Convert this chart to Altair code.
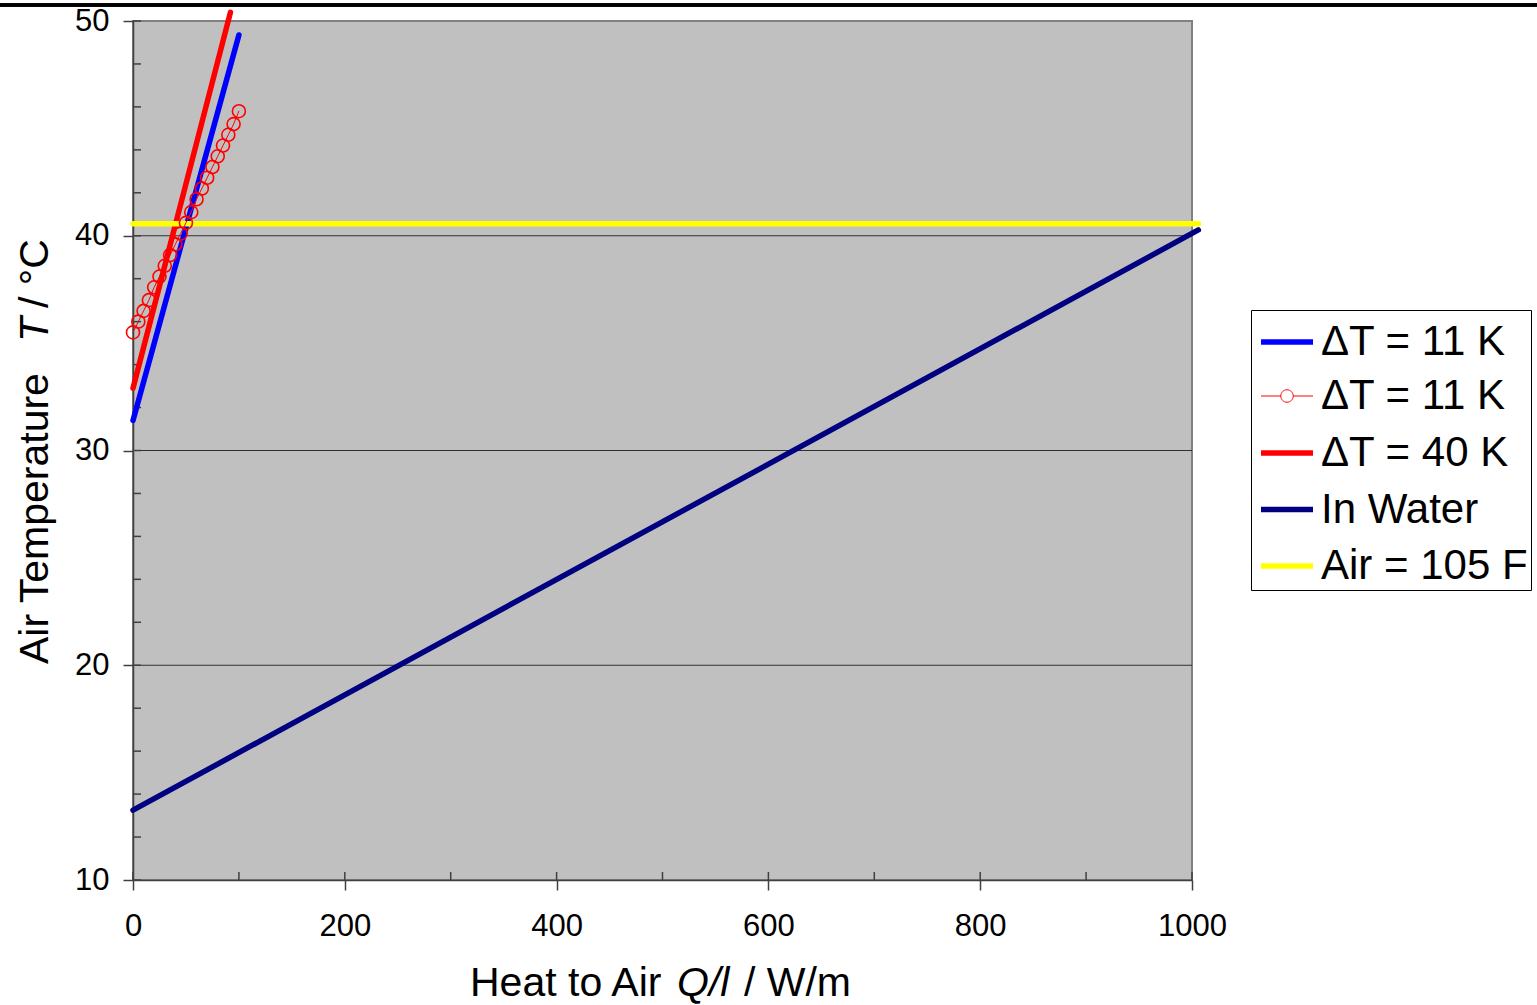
import altair as alt
import pandas as pd

# ---- data ----
series_keys = ["s1", "s2", "s3", "s4", "s5"]
series_labels = ["ΔT = 11 K", "ΔT = 11 K", "ΔT = 40 K", "In Water", "Air = 105 F"]
series_colors = ["#0000FF", "#FF0000", "#FF0000", "#000080", "#FFFF00"]
series_widths = [5.5, 1, 5.5, 5.5, 5.5]

blue_x = [0, 100]
blue_t = [31.4, 49.35]

red40_x = [0, 92]
red40_t = [32.9, 50.4]

water_x = [0, 1006]
water_t = [13.25, 40.27]

air_x = [0, 1006]
air_t = [40.56, 40.56]

circ_x = [0, 5, 10, 15, 20, 25, 30, 35, 40, 45, 50, 55, 60, 65, 70, 75, 80, 85, 90, 95, 100]
circ_t = [35.5, 36.0, 36.5, 37.0, 37.6, 38.1, 38.6, 39.1, 39.6, 40.1, 40.6,
          41.1, 41.7, 42.2, 42.7, 43.2, 43.7, 44.2, 44.7, 45.2, 45.8]

x_major = [0, 200, 400, 600, 800, 1000]
x_minor = [0, 100, 200, 300, 400, 500, 600, 700, 800, 900, 1000]
y_major = [10, 20, 30, 40, 50]
y_grid = [20, 30, 40]
y_minor = [10, 12, 14, 16, 18, 20, 22, 24, 26, 28, 30, 32, 34, 36, 38, 40, 42, 44, 46, 48, 50]

# axis titles, split where the italic symbol sits
x_title_parts = ["Heat to Air", "Q/l", "/ W/m"]
y_title_parts = ["Air Temperature", "T", "/ °C"]

FONT = "Liberation Sans"
TITLE_SIZE = 41

# ---- tables ----
series_data = {"s1": (blue_x, blue_t), "s2": (circ_x, circ_t), "s3": (red40_x, red40_t),
               "s4": (water_x, water_t), "s5": (air_x, air_t)}
circ_df = pd.DataFrame({"q": circ_x, "T": circ_t})
legend_df = pd.DataFrame({"key": series_keys, "label": series_labels})
xminor_df = pd.DataFrame({"q": x_minor})
yminor_df = pd.DataFrame({"T": y_minor})
ygrid_df = pd.DataFrame({"T": y_grid})

label_map = "{" + ",".join(f"'{k}':'{l}'" for k, l in zip(series_keys, series_labels)) + "}"

xscale = alt.Scale(domain=[0, 1000], nice=False, zero=False)
yscale = alt.Scale(domain=[10, 50], nice=False, zero=False)

color_scale = alt.Scale(type="ordinal", domain=series_keys, range=series_colors)
width_scale = alt.Scale(type="ordinal", domain=series_keys, range=series_widths)
circle_path = ("M-1,0L-0.24,0M0.24,0L1,0"
               "M-0.24,0A0.24,0.24,0,1,1,0.24,0A0.24,0.24,0,1,1,-0.24,0")
shape_scale = alt.Scale(type="ordinal", domain=series_keys,
                        range=["stroke", circle_path, "stroke", "stroke", "stroke"])

x_axis = alt.Axis(values=x_major, format="d", labelFlush=False, title=None, grid=False,
                  labelFontSize=31, labelFont=FONT, labelColor="black",
                  labelBaseline="middle", labelPadding=36,
                  tickSize=10, tickColor="#404040", tickWidth=1.5,
                  domainColor="#404040", domainWidth=1.5)
y_axis = alt.Axis(values=y_major, title=None, grid=False, labelFlush=False,
                  labelFontSize=31, labelFont=FONT, labelColor="black",
                  labelPadding=14,
                  tickSize=10, tickColor="#404040", tickWidth=1.5,
                  domainColor="#404040", domainWidth=1.5)

# legend carrier (marks placed off-canvas; only its legend is seen)
legend_layer = alt.Chart(legend_df).mark_point(
    filled=False, size=2704, opacity=1).encode(
    x=alt.value(-3000), y=alt.value(-3000),
    color=alt.Color("key:N", scale=color_scale, legend=alt.Legend(
        title=None, orient="none", legendX=1118, legendY=289,
        labelExpr=label_map + "[datum.label]",
        labelFont=FONT, labelFontSize=42, labelColor="black", labelLimit=400,
        labelOffset=5, symbolSize=2704, symbolOffset=4,
        strokeColor="black", fillColor="white", padding=3,
        rowPadding=6.5)),
    shape=alt.Shape("key:N", scale=shape_scale),
    strokeWidth=alt.StrokeWidth("key:N", scale=width_scale),
)

grid = alt.Chart(ygrid_df).mark_rule(color="#303030", strokeWidth=1).encode(
    y=alt.Y("T:Q", scale=yscale, axis=y_axis), x=alt.value(0), x2=alt.value(1059))

line_layers = []
for key in ["s1", "s3", "s4", "s5", "s2"]:
    xs, ts = series_data[key]
    i = series_keys.index(key)
    df = pd.DataFrame({"q": xs, "T": ts})
    line_layers.append(
        alt.Chart(df).mark_line(strokeCap="round", clip=False,
                                color=series_colors[i],
                                strokeWidth=series_widths[i]).encode(
            x=alt.X("q:Q", scale=xscale, axis=x_axis),
            y=alt.Y("T:Q", scale=yscale, axis=y_axis),
        )
    )

circles = alt.Chart(circ_df).mark_point(filled=False, size=169, color="#FF0000",
                                        strokeWidth=1.6, opacity=1).encode(
    x=alt.X("q:Q", scale=xscale),
    y=alt.Y("T:Q", scale=yscale),
)

xminor = alt.Chart(xminor_df).mark_rule(color="#404040", strokeWidth=1.5).encode(
    x=alt.X("q:Q", scale=xscale), y=alt.value(859), y2=alt.value(851))
yminor = alt.Chart(yminor_df).mark_rule(color="#404040", strokeWidth=1.5).encode(
    y=alt.Y("T:Q", scale=yscale), x=alt.value(0), x2=alt.value(8))

top_rule = alt.Chart(legend_df).mark_rule(color="black", strokeWidth=3).encode(
    x=alt.value(-133), x2=alt.value(1404), y=alt.value(-16))


def title_piece(text, x, y, italic, angle=0):
    return alt.Chart(pd.DataFrame({"t": [text]})).mark_text(
        font=FONT, fontSize=TITLE_SIZE, color="black", align="left",
        baseline="alphabetic", angle=angle,
        fontStyle="italic" if italic else "normal").encode(
        text="t:N", x=alt.value(x), y=alt.value(y))


x_title = [title_piece(x_title_parts[0], 337, 975, False),
           title_piece(x_title_parts[1], 544, 975, True),
           title_piece(x_title_parts[2], 611, 975, False)]
y_title = [title_piece(y_title_parts[0], -85, 643, False, 270),
           title_piece(y_title_parts[1], -85, 321, True, 270),
           title_piece(y_title_parts[2], -85, 287, False, 270)]

chart = alt.layer(legend_layer, grid, xminor, yminor, *line_layers, circles, top_rule,
                  *x_title, *y_title).properties(
    width=1059, height=859,
    background="white",
    autosize=alt.AutoSizeParams(type="none"),
    padding={"left": 133, "top": 21, "right": 345, "bottom": 125},
).configure_view(fill="#C0C0C0", stroke="#808080", strokeWidth=2)

chart.save("out.html", embed_options={"renderer": "svg", "actions": False})
